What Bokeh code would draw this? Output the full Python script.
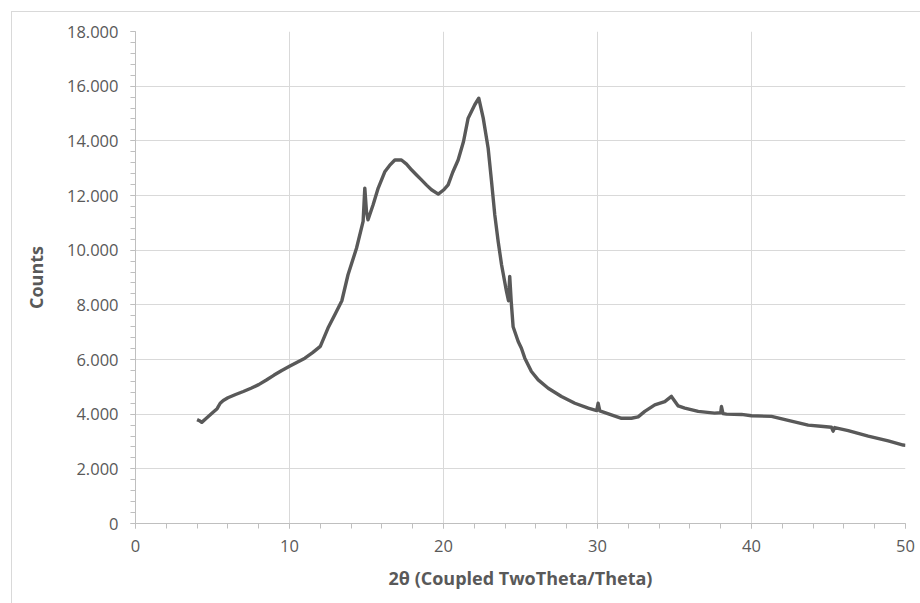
from bokeh.plotting import figure
from bokeh.models import FixedTicker, CustomJSTickFormatter, ColumnDataSource
from bokeh.embed import file_html
from bokeh.resources import INLINE

# 2-theta (degrees) and counts
two_theta = [4.0, 4.15, 4.3, 4.6, 5.0, 5.3, 5.5, 5.7, 6.0, 6.5, 7.0, 7.5, 8.0, 8.5, 9.0, 9.5,
             10.0, 10.5, 11.0, 11.5, 12.0, 12.5, 13.0, 13.4, 13.8, 14.35, 14.78,
             14.89, 15.0, 15.1, 15.43, 15.76, 16.2, 16.5, 16.84, 17.27, 17.6,
             17.92, 18.25, 18.57, 18.9, 19.22, 19.66, 20.0, 20.3, 20.6, 20.95,
             21.3, 21.6, 22.03, 22.29, 22.58, 22.9, 23.12, 23.33, 23.55, 23.77,
             24.09, 24.22, 24.3, 24.4, 24.52, 24.85, 25.06, 25.28, 25.71, 26.15,
             26.8, 27.66, 28.53, 29.4, 29.95, 30.04, 30.15, 30.9, 31.56, 32.2,
             32.64, 33.07, 33.72, 34.37, 34.8, 35.24, 35.67, 36.54, 37.6, 38.0,
             38.05, 38.15, 38.38, 39.35, 40.0, 41.3, 42.38, 43.68, 44.5, 45.19,
             45.3, 45.4, 46.28, 47.58, 48.88, 49.85, 50.0]
counts = [3800, 3760, 3700, 3850, 4050, 4200, 4400, 4500, 4600, 4720, 4830, 4950, 5080, 5250, 5430, 5600,
          5750, 5900, 6050, 6250, 6480, 7150, 7700, 8150, 9100, 10070, 11050,
          12270, 11400, 11110, 11660, 12270, 12880, 13100, 13300, 13300, 13150,
          12940, 12750, 12570, 12380, 12210, 12050, 12200, 12390, 12850, 13300,
          13975, 14830, 15320, 15560, 14830, 13730, 12510, 11290, 10320, 9465,
          8490, 8150, 9040, 8100, 7200, 6660, 6410, 6050, 5560, 5255,
          4950, 4645, 4400, 4220, 4130, 4400, 4120, 3975, 3850, 3850,
          3900, 4100, 4340, 4460, 4650, 4300, 4220, 4100, 4040, 4050,
          4280, 4020, 4000, 3990, 3940, 3920, 3770, 3600, 3560, 3520,
          3380, 3510, 3400, 3200, 3020, 2870, 2860]

x_ticks = [0, 10, 20, 30, 40, 50]
x_minor = [v for v in range(0, 51, 2)]
y_ticks = [0, 2000, 4000, 6000, 8000, 10000, 12000, 14000, 16000, 18000]
y_minor = [v for v in range(0, 18001, 400)]

x_title = "2θ (Coupled TwoTheta/Theta)"
y_title = "Counts"

TXT = "#595959"
GRID = "#d9d9d9"
FONT = "Open Sans"

p = figure(width=909, height=592, output_backend="svg", toolbar_location=None,
           x_range=(0, 50), y_range=(0, 18000),
           min_border_left=123, min_border_right=16, min_border_top=19, min_border_bottom=81)
p.margin = (11, 0, 0, 11)
p.styles = {"border-left": "1px solid #d9d9d9", "border-top": "1px solid #d9d9d9"}
p.outline_line_color = None
p.background_fill_color = "white"
p.border_fill_color = "white"

src = ColumnDataSource(dict(x=two_theta, y=counts))
p.line("x", "y", source=src, line_color="#595959", line_width=3.4, line_join="round")

p.xaxis.ticker = FixedTicker(ticks=x_ticks, minor_ticks=x_minor)
p.yaxis.ticker = FixedTicker(ticks=y_ticks, minor_ticks=y_minor)
p.yaxis.formatter = CustomJSTickFormatter(code="""
var s = Math.round(tick).toString();
return s.replace(/\\B(?=(\\d{3})+(?!\\d))/g, '.');
""")

for ax in (p.xaxis[0], p.yaxis[0]):
    ax.axis_line_color = "#bfbfbf"
    ax.axis_line_width = 1
    ax.major_tick_line_color = "#bfbfbf"
    ax.minor_tick_line_color = "#bfbfbf"
    ax.major_tick_in = 0
    ax.major_tick_out = 5
    ax.minor_tick_in = 0
    ax.minor_tick_out = 5
    ax.major_label_text_font = FONT
    ax.major_label_text_font_size = "16.5px"
    ax.major_label_text_color = TXT
    ax.axis_label_text_font = FONT
    ax.axis_label_text_font_size = "18px"
    ax.axis_label_text_font_style = "bold"
    ax.axis_label_text_color = TXT

p.yaxis.major_label_standoff = 12
p.xaxis.major_label_standoff = 11
p.yaxis.axis_label = y_title
p.xaxis.axis_label = x_title
p.yaxis.axis_label_standoff = 16
p.xaxis.axis_label_standoff = 11

p.xgrid.ticker = FixedTicker(ticks=x_ticks)
p.ygrid.ticker = FixedTicker(ticks=y_ticks)
p.grid.grid_line_color = GRID
p.grid.grid_line_width = 1

open("out.html", "w").write(file_html(p, INLINE))
